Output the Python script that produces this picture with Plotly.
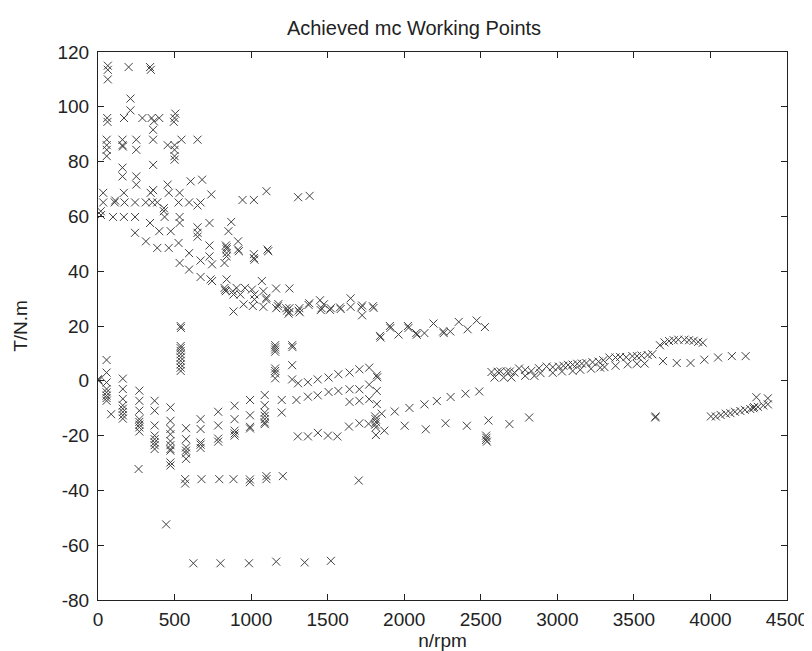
import plotly.graph_objects as go

# upper-left cloud of high torque points
high_n = [64, 64, 64, 200, 340, 345, 212, 212,
          60, 62, 170, 290, 350, 365, 400, 505, 500, 495, 360,
          57, 160, 250, 360, 545, 650, 57, 160, 162, 455, 500,
          57, 250, 500, 57, 500, 500, 160, 360,
          160, 250, 680, 605, 250, 455, 360, 1100,
          34, 169, 344, 462, 533, 740,
          34, 109, 112, 173, 242, 312, 355, 387, 526, 595, 670, 944, 1018, 1307, 1382,
          650, 430, 18, 430, 20,
          98, 169, 242, 435, 533, 340, 533, 728, 870,
          650, 400, 475, 852, 242, 650, 650, 313, 915, 526,
          728, 835, 840, 840, 387, 462, 915, 920, 1107, 1112, 1018,
          595, 840, 728, 840, 1018, 1022, 670, 533, 826, 745, 595]
high_t = [115, 113.5, 110, 114.5, 114.5, 113.5, 103, 98.7,
          95.9, 94.5, 95.9, 95.9, 95.9, 94.7, 95.9, 97.5, 95.9, 94.5, 91.6,
          88, 88, 88, 88, 88, 88, 86, 86, 85.5, 86, 86,
          84.3, 84.3, 84.3, 82, 82, 80.7, 77.8, 78.8,
          74.6, 74.6, 73.4, 72.8, 71.6, 71.6, 69.6, 69.2,
          68.6, 68.6, 68.6, 68.6, 68.6, 68,
          65.1, 65.1, 65.8, 65.1, 65.1, 65.1, 65.1, 65.1, 65.1, 65.1, 65.1, 66, 66, 67, 67.5,
          64, 63, 61.9, 61.9, 60.5,
          59.8, 59.8, 59.8, 59.8, 59.8, 57.6, 57.6, 57.6, 58,
          56, 54.6, 54.6, 54.6, 54, 54, 52.6, 50.9, 50.9, 50.3,
          49.4, 49.4, 48.7, 48, 48.5, 48.5, 47.9, 47.3, 47.9, 47.3, 46.2,
          46.6, 46.6, 45.4, 45.4, 44.8, 44.2, 43.9, 43, 43, 42.5, 40.6]

# declining band towards 1850 rpm
decl_n = [670, 1070, 735, 840, 745, 826, 830, 905, 960, 1005, 1163, 1250,
          835, 880, 1080, 885, 930, 1022, 1100, 1098, 1022,
          951, 1011, 1178, 1175, 1380, 1375, 1475,
          1080, 1164, 1230, 1235, 1250, 1315, 1310, 1460, 1455, 1520, 1515, 1580, 1585,
          885, 1250, 1245, 1318, 1450, 1650, 1650, 1725, 1720, 1725, 1795, 1800]
decl_t = [37.9, 36.4, 37, 37, 36.4, 33.9, 33.2, 33.9, 33.9, 33.3, 33.7, 33.7,
          32.7, 32.7, 32.7, 31.5, 31.5, 31.5, 30.3, 29.7, 29.7,
          27.9, 27.3, 28, 27.2, 28.3, 27.7, 27.9,
          27, 26.5, 26.5, 25.6, 26.5, 26.5, 25.6, 26.5, 25.8, 26.5, 25.9, 26.8, 26.2,
          25.3, 25.1, 24.5, 25, 29.4, 30.1, 27, 27.5, 26.8, 23.9, 27.2, 26.6]

# second band 1840 - 2530 rpm
band2_n = [1842, 1846, 1906, 1910, 1963, 2024, 2028, 2078, 2082, 2132,
           2191, 2254, 2258, 2301, 2356, 2414, 2473, 2527]
band2_t = [16.4, 15.8, 20, 19.3, 16.9, 20, 19.3, 17.4, 16.8, 17.4,
           20.9, 18, 17.4, 18, 21.5, 18.8, 22, 19.6]

# vertical spikes
spike_n = [540, 542, 540, 540, 540, 540, 540, 540, 540, 540, 540,
           1157, 1157, 1157, 1157, 1157, 1157, 1157, 1157,
           1268, 1270, 1268, 1268]
spike_t = [20, 19.3, 12.7, 11.9, 10.9, 9.7, 8.5, 7.3, 6, 4.8, 3.6,
           13, 12.2, 11.4, 10.6, 4.5, 3.6, 2.7, 0.9,
           13, 12.3, 5.7, 0.5]

# rising lines around zero, 1200 - 2820 rpm
mid_n = [1307, 1371, 1435, 1506, 1570, 1643, 1707, 1771, 1821, 1824,
         1200, 1296, 1371, 1435, 1506, 1570, 1643, 1707, 1771, 1821,
         1643, 1707, 1771, 1821,
         1810, 1812, 1815, 1810, 1815, 1815, 1853,
         1938, 2034, 2132, 2213, 2303, 2400, 2490,
         1870, 2003, 2141, 2270, 2409, 2550, 2687, 2816,
         2535, 2537, 2535, 2540,
         1305, 1371, 1436, 1502, 1563, 1639, 1707, 1767,
         1703, 1521, 1350]
mid_t = [-0.9, -0.5, 0.5, 1.2, 2.4, 3, 4.2, 4.8, 2, 1.3,
         -7, -7, -5.8, -5.3, -4.1, -3.7, -3.1, -3.1, -1.4, -3.7,
         -7.7, -7.3, -6.7, -8.5,
         -13, -14, -15, -16, -17, -19.8, -12,
         -11.2, -9.9, -8.6, -7.4, -5.9, -4.7, -3.9,
         -18.2, -16.4, -17.7, -15.5, -16.4, -14.5, -15.8, -13.4,
         -20, -20.8, -21.6, -22.2,
         -20.3, -20.3, -19, -20, -20.3, -16.7, -15.5, -15.7,
         -36.4, -65.7, -66.3]

# right hand band 2570 - 4380 rpm
right_n = [2570, 2610, 2630, 2670, 2690, 2720, 2750, 2790, 2830, 2880, 2930, 2970, 3010, 3040,
           3070, 3100, 3130, 3160, 3190, 3230, 3270, 3300, 3340, 3380, 3410, 3450, 3490, 3520,
           3550, 3590, 3620,
           2590, 2650, 2700, 2790, 2850, 2890, 2970, 3030, 3100, 3150, 3220, 3280, 3308,
           3380, 3460, 3520, 3570,
           3670, 3700, 3730, 3760, 3790, 3830, 3860, 3890, 3920, 3950,
           3690, 3780, 3870, 3960, 4050, 4140, 4230,
           3639, 3642,
           4003, 4035, 4067, 4100, 4130, 4160, 4195, 4225, 4260, 4280, 4285, 4310, 4345, 4375,
           4300, 4375]
right_t = [3.2, 3.3, 3.4, 3.4, 3.4, 3.0, 4.5, 4.0, 3.6, 4.6, 5.2, 5.0, 5.2, 5.5,
           5.8, 5.9, 6.2, 6.3, 6.5, 6.8, 7, 7.5, 8.5, 8.5, 8.7, 8.6, 9, 9.0,
           9.2, 9.4, 9.7,
           1.2, 1.2, 1.2, 1.8, 1.8, 2.8, 2.9, 3.4, 3.6, 4, 4.4, 4.8, 5,
           5.5, 6, 6.2, 6.3,
           13, 14, 14.5, 14.8, 15, 15, 14.8, 14.6, 14.2, 13.9,
           7.2, 6.5, 6.5, 7.7, 8.5, 9, 9,
           -13.4, -13.0,
           -13, -13, -12.5, -12, -11.8, -11.3, -11, -10.6, -10.3, -10, -9.6, -9.5, -9, -8.6,
           -6, -6.4]

# low speed columns below zero
low_n = [2, 4, 0,
         56, 56, 56, 56, 56, 56, 56, 56, 86,
         162, 162, 162, 162, 162, 162, 162, 162,
         270, 270, 270, 270, 270, 270, 270, 270, 265,
         370, 370, 370, 370, 370, 370, 370, 370,
         473, 473, 473, 473, 473, 473, 473, 473, 473, 473, 445,
         575, 575, 575, 575, 575, 575, 569, 569,
         670, 670, 670, 670, 670, 676,
         785, 785, 785, 785, 792,
         892, 892, 892, 892, 892, 885,
         993, 993, 993, 993, 992, 992,
         1089, 1089, 1089, 1089, 1089, 1089, 1089, 1100, 1100,
         1200, 1207,
         623, 800, 986, 1164]
low_t = [0.3, 0, 0.6,
         7.6, 3, -0.6, -3, -4.2, -5.4, -6.3, -7.3, -12.2,
         0.8, -3, -6.6, -9, -10.2, -11.4, -12.6, -13.8,
         -3.6, -7.3, -10.9, -14, -15, -16, -17, -18.5, -32.2,
         -7.3, -10.9, -16.3, -20, -21.3, -22.5, -23.5, -24.9,
         -9.7, -14.6, -17.6, -19.5, -22, -23.5, -24.9, -25.5, -29.8, -30.9, -52.4,
         -17.3, -21.3, -24.3, -25.5, -26.5, -28.5, -35.9, -37.5,
         -14, -17.6, -22.5, -23.3, -24.5, -35.9,
         -11.3, -16.3, -21.1, -22.2, -35.9,
         -9.1, -14, -18.2, -19.2, -20, -35.9,
         -7, -12.6, -17.4, -16.8, -36, -37,
         -5.2, -8.9, -11.6, -12.8, -14, -15.2, -15.8, -34.8, -35.9,
         -11.6, -34.8,
         -66.6, -66.6, -66.6, -66]

# tick labels (matlab style hyphen minus)
y_ticks = [-80, -60, -40, -20, 0, 20, 40, 60, 80, 100, 120]
y_tick_text = ['-80', '-60', '-40', '-20', '0', '20', '40', '60', '80', '100', '120']

n_all = high_n + decl_n + band2_n + spike_n + mid_n + right_n + low_n
t_all = high_t + decl_t + band2_t + spike_t + mid_t + right_t + low_t

fig = go.Figure()
fig.add_trace(go.Scatter(
    x=n_all, y=t_all,
    mode='markers',
    marker=dict(symbol='x-thin', size=8,
                line=dict(width=1, color='#404040')),
    showlegend=False,
    hoverinfo='x+y'
))

font = dict(family="Liberation Sans, Arial, sans-serif", size=19, color='#222222')

fig.update_layout(
    width=812, height=651,
    title=dict(text="Achieved mc Working Points", x=0.5, xanchor='center',
               y=1 - 20 / 651, yanchor='middle', font=dict(size=20)),
    font=font,
    plot_bgcolor='white',
    paper_bgcolor='white',
    margin=dict(l=88, r=24, t=44, b=59),
    xaxis=dict(
        range=[0, 4500], dtick=500, tick0=0,
        showgrid=False, zeroline=False,
        showline=True, linecolor='#222222', linewidth=1, mirror='ticks',
        ticks='inside', ticklen=6, tickcolor='#222222',
        ticklabelstandoff=2,
        title=dict(text="n/rpm", standoff=4, font=dict(size=19))
    ),
    yaxis=dict(
        range=[-80, 120], tickvals=y_ticks, ticktext=y_tick_text,
        showgrid=False, zeroline=False,
        showline=True, linecolor='#222222', linewidth=1, mirror='ticks',
        ticks='inside', ticklen=6, tickcolor='#222222',
        ticklabelstandoff=4,
        title=dict(text="T/N.m", standoff=24, font=dict(size=19))
    ),
)

fig.write_html("out.html")
